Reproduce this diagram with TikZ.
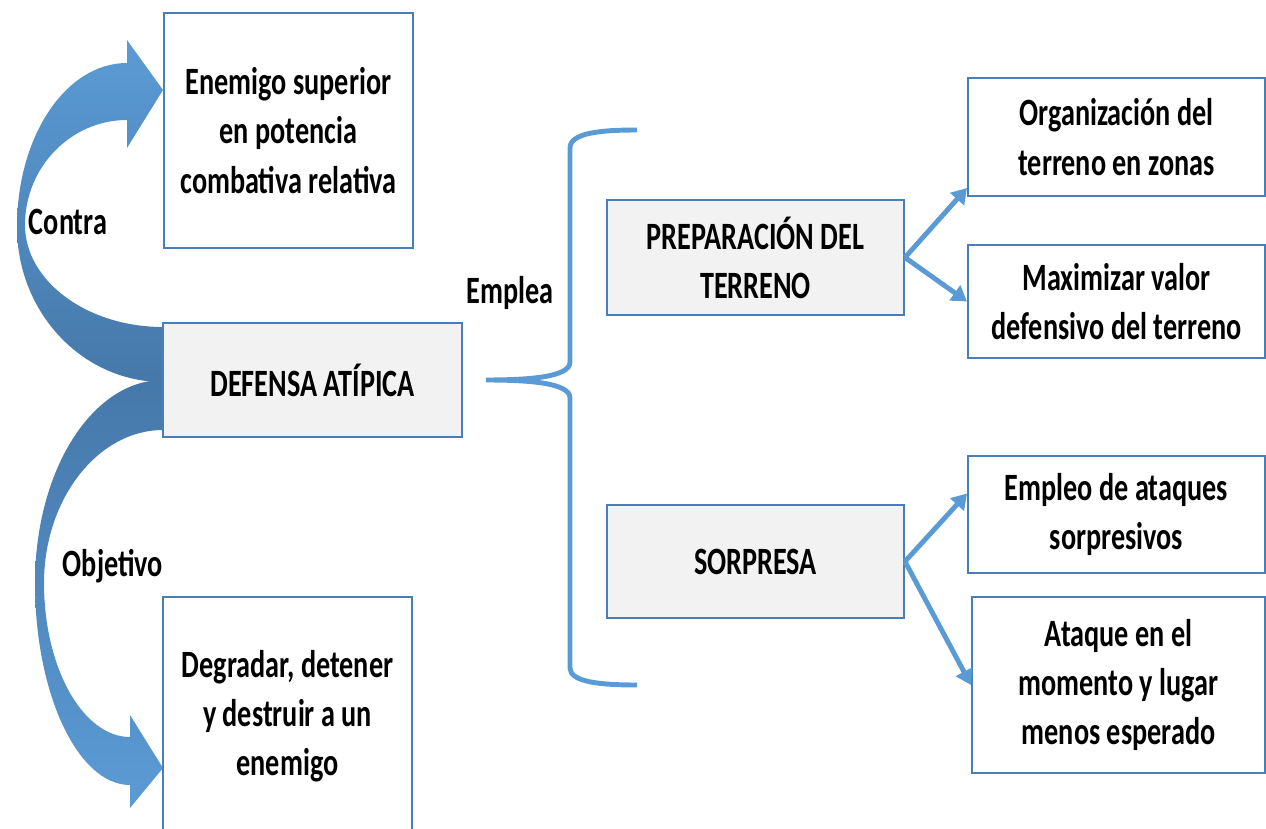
\documentclass[tikz,border=0pt]{standalone}
\usepackage{fontspec}
\setmainfont{Carlito}[FakeStretch=0.73]
\usepackage{xcolor}
\usepackage{tikz}
\usetikzlibrary{arrows.meta}

\definecolor{boxline}{RGB}{74,126,187}
\definecolor{boxgray}{RGB}{242,242,242}
\definecolor{lightblue}{RGB}{91,155,213}
\definecolor{darkblue}{RGB}{70,120,170}

\tikzset{
  box/.style={draw=boxline, line width=1.1pt, fill=white, align=center, inner sep=0,
    font=\bfseries\fontsize{22}{28}\selectfont},
  graybox/.style={box, fill=boxgray},
  lbl/.style={font=\bfseries\fontsize{22}{28}\selectfont, inner sep=0},
  bluearrow/.style={draw=lightblue, line width=2.8pt, -{Triangle[length=0.3cm,width=0.36cm]}},
  bracelin/.style={draw=lightblue, line width=2.8pt}
}

\begin{document}
\begin{tikzpicture}
	% Boxes, curved arrows and brace:
	\useasboundingbox (0, 0) rectangle (25.32, 16.56);
	\draw[top color=lightblue, bottom color=darkblue, draw=none] (3.26, 8.92) .. controls (1.66, 8.92) and (0.34, 10.3) .. (0.34, 12.02) .. controls (0.34, 13.84) and (1.32, 15.3) .. (2.54, 15.3) -- (2.54, 15.76) -- (3.26, 14.76) -- (2.54, 13.6) -- (2.54, 14.16) .. controls (1.42, 14.16) and (0.5, 13.22) .. (0.5, 12.06) .. controls (0.5, 10.94) and (1.74, 10.02) .. (3.26, 10.02) -- cycle;
	\draw[top color=darkblue, bottom color=lightblue, draw=none] (3.26, 8.96) .. controls (1.84, 8.96) and (0.7, 7.14) .. (0.7, 4.9) .. controls (0.7, 2.68) and (1.56, 0.86) .. (2.6, 0.86) -- (2.6, 0.4) -- (3.26, 1.2) -- (2.6, 2.26) -- (2.6, 1.82) .. controls (1.66, 1.82) and (0.88, 3.2) .. (0.88, 4.9) .. controls (0.88, 6.58) and (1.96, 7.96) .. (3.26, 7.96) -- cycle;
	\node[box, minimum width=4.98cm, minimum height=4.7cm] (Enemigo) at (5.77, 13.95) {Enemigo superior\\en potencia\\combativa relativa};
	\node[graybox, minimum width=5.98cm, minimum height=2.28cm] (Defensa) at (6.25, 8.96) {DEFENSA ATÍPICA};
	\node[box, minimum width=4.98cm, minimum height=4.76cm] (Degradar) at (5.75, 2.24) {Degradar, detener\\y destruir a un\\enemigo};
	\node[lbl] (Contra) at (1.36, 12.12) {Contra};
	\node[lbl] (Objetivo) at (2.26, 5.24) {Objetivo};
	\node[lbl] (Emplea) at (10.2, 10.7) {Emplea};
	\node[graybox, minimum width=5.94cm, minimum height=2.3cm] (Prep) at (15.11, 11.41) {PREPARACIÓN DEL\\TERRENO};
	\node[graybox, minimum width=5.94cm, minimum height=2.26cm] (Sorpresa) at (15.11, 5.33) {SORPRESA};
	\node[box, minimum width=5.94cm, minimum height=2.36cm] (Org) at (22.33, 13.82) {Organización del\\terreno en zonas};
	\node[box, minimum width=5.94cm, minimum height=2.26cm] (Max) at (22.33, 10.53) {Maximizar valor\\defensivo del terreno};
	\node[box, minimum width=5.94cm, minimum height=2.34cm] (Empleo) at (22.33, 6.27) {Empleo de ataques\\sorpresivos};
	\node[box, minimum width=5.86cm, minimum height=3.52cm] (Ataque) at (22.37, 2.86) {Ataque en el\\momento y lugar\\menos esperado};
	\coordinate (Tip) at ([xshift=0.46cm]Defensa.east);
	\draw[bracelin] (12.74, 13.96) .. controls (12.0, 13.96) and (11.4, 13.9) .. (11.4, 13.6) -- (11.4, 9.32) .. controls (11.4, 9.02) and (10.6, 8.96) .. (Tip) .. controls (10.6, 8.96) and (11.4, 8.9) .. (11.4, 8.6) -- (11.4, 3.2) .. controls (11.4, 2.92) and (12.0, 2.86) .. (12.74, 2.86);
	\draw[bluearrow] (Prep.east) -- ([yshift=0.18cm]Org.south west);
	\draw[bluearrow] (Prep.east) -- (Max.west);
	\draw[bluearrow] (Sorpresa.east) -- ([yshift=0.42cm]Empleo.west);
	\draw[bluearrow] (Sorpresa.east) -- (Ataque.west);
\end{tikzpicture}
\end{document}
